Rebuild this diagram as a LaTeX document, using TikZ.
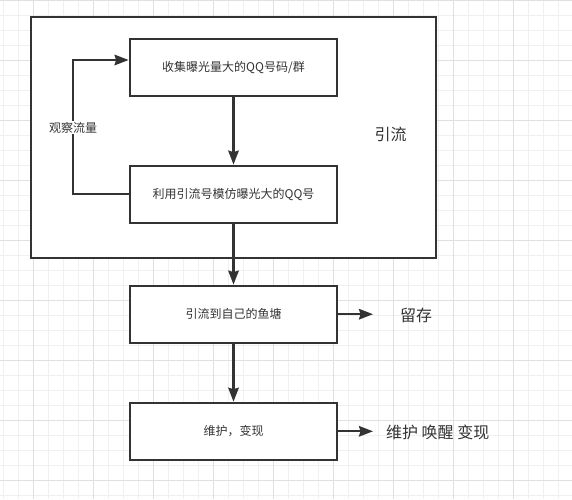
\documentclass[tikz,border=0pt]{standalone}
\usepackage{fontspec}
\setmainfont{Noto Sans CJK SC}
\usetikzlibrary{arrows.meta}
\definecolor{ink}{HTML}{333333}
\definecolor{gridminor}{HTML}{F0F0F0}
\definecolor{gridmajor}{HTML}{E0E0E0}
\tikzset{
  stepbox/.style={draw=ink, line width=2.2pt, fill=white, minimum width=207.6pt, minimum height=57pt, inner sep=0pt, font=\fontsize{12pt}{14pt}\selectfont, text=ink},
  conn/.style={draw=ink, line width=2.2pt, -{Stealth[length=14pt, width=10.5pt, inset=1.5pt]}},
  bigtext/.style={font=\fontsize{16pt}{18pt}\selectfont, text=ink, inner sep=0pt},
}
\begin{document}
\begin{tikzpicture}[x=1pt, y=-1pt]
\useasboundingbox (0,0) rectangle (572,499);
\fill[white] (0,0) rectangle (572,499);
% grid
\foreach \i in {0,...,33} {
  \draw[gridminor, line width=1pt] (0,15*\i) -- (572,15*\i);
}
\foreach \i in {0,...,38} {
  \draw[gridminor, line width=1pt] (3.3+15*\i,0) -- (3.3+15*\i,499);
}
\foreach \i in {0,...,8} {
  \draw[gridmajor, line width=1pt] (0,60*\i) -- (572,60*\i);
}
\foreach \i in {0,...,9} {
  \draw[gridmajor, line width=1pt] (33.3+60*\i,0) -- (33.3+60*\i,499);
}
% outer group box
\node[draw=ink, line width=2.2pt, fill=white, minimum width=405pt, minimum height=241pt, inner sep=0pt] (group) at (233.2,137.2) {};
\node[bigtext] (yinliu) at (390.7,134.3) {引流};
% steps
\node[stepbox] (s1) at (233.5,67.3) {收集曝光量大的QQ号码/群};
\node[stepbox] (s2) at (233.5,194.2) {利用引流号模仿曝光大的QQ号};
\node[stepbox] (s3) at (233.5,314.2) {引流到自己的鱼塘};
\node[stepbox] (s4) at (233.5,431.3) {维护，变现};
% connectors
\draw[conn] (s1) -- (s2);
\draw[conn] (s2) -- (s3);
\draw[conn] (s3) -- (s4);
\coordinate (fbx) at (73,0);
\coordinate (fby) at (0,60);
\draw[conn] (s2.west) -- (s2.west -| fbx) -- (fbx |- fby) -- (fby -| s1.west);
\node[fill=white, font=\fontsize{12pt}{14pt}\selectfont, text=ink, inner sep=1pt] (obs) at (73,127.7) {观察流量};
% right outputs
\coordinate (e3) at (373,314.2);
\coordinate (e4) at (373,431.3);
\draw[conn] (s3.east) -- (e3);
\draw[conn] (s4.east) -- (e4);
\node[bigtext] (liucun) at (416,315) {留存};
\node[bigtext] (weihu) at (437.7,432) {维护 唤醒 变现};
\end{tikzpicture}
\end{document}
